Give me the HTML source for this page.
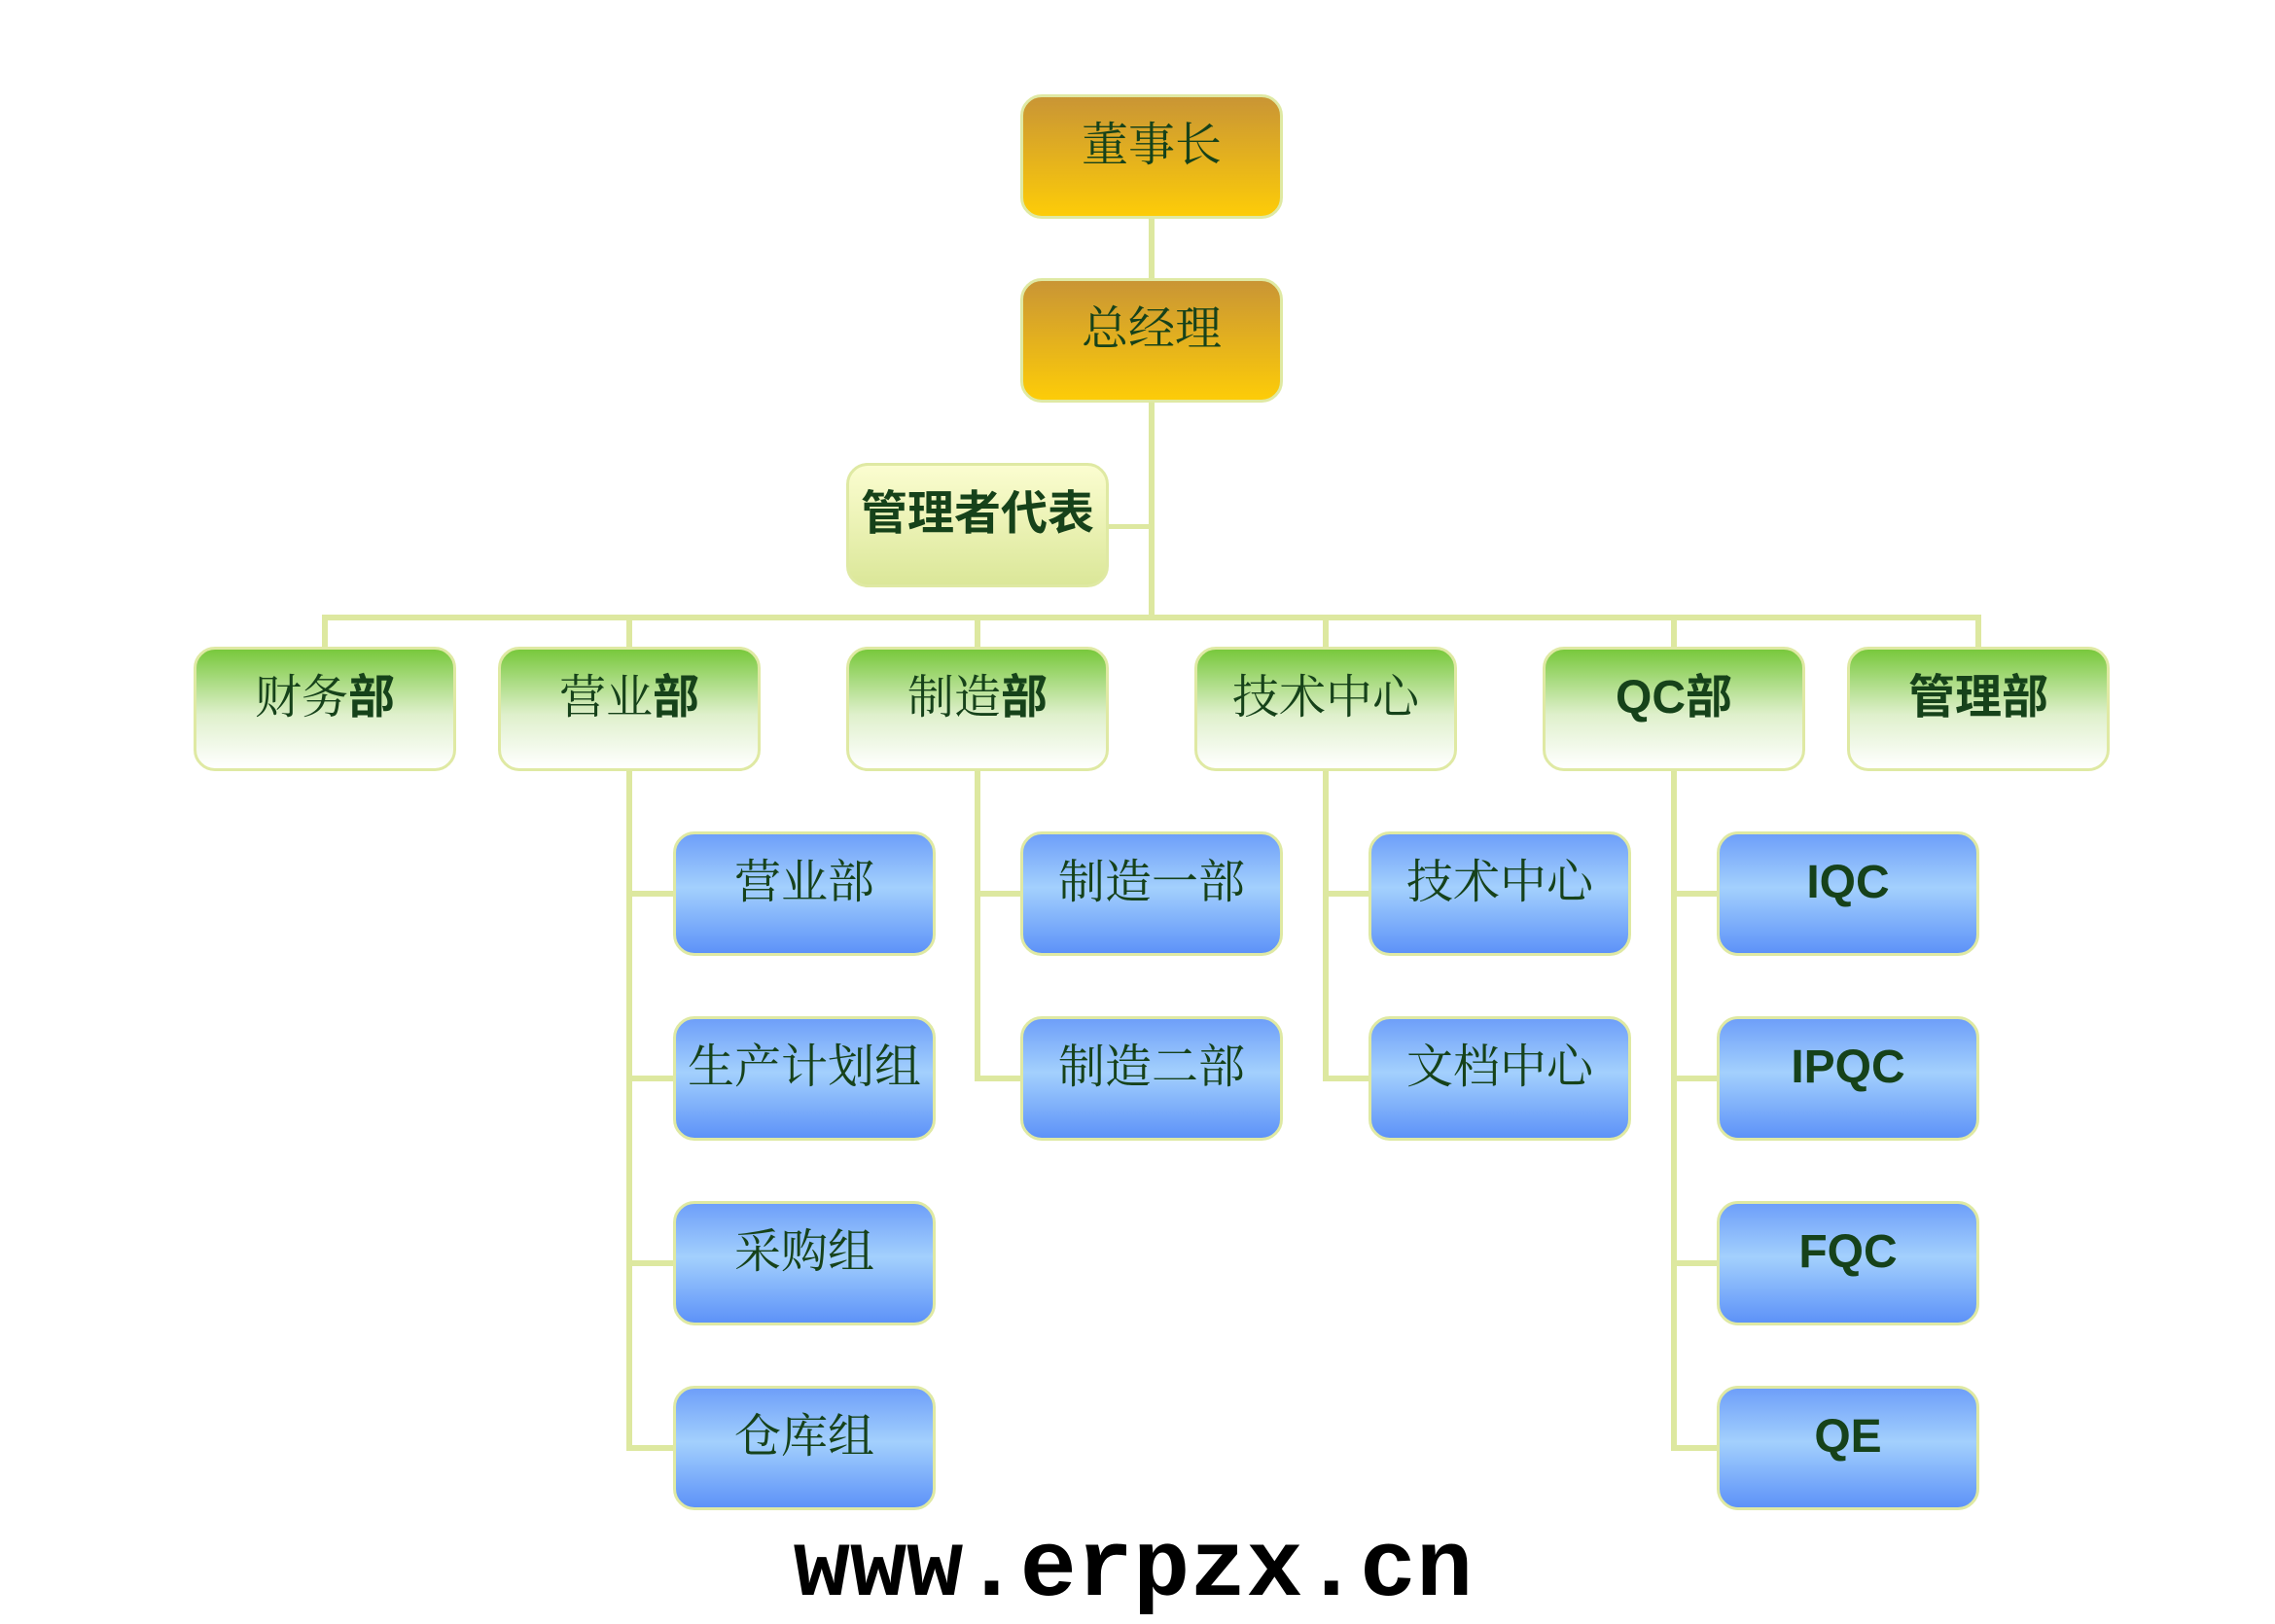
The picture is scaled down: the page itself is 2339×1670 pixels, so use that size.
<!DOCTYPE html>
<html><head><meta charset="utf-8"><style>
body{margin:0;width:2339px;height:1654px;background:#fff;position:relative;overflow:hidden;font-family:"Liberation Sans","Noto Sans CJK SC",sans-serif}
.b{position:absolute;width:270px;height:128px;border:3px solid #dfe9a3;border-radius:22px;box-sizing:border-box;color:#16421a;font-size:48px;text-align:center;line-height:100px;font-family:"Liberation Serif","Noto Serif CJK SC",serif}
.g{background:linear-gradient(#c99535,#fdcc08)}
.gr{background:linear-gradient(#78c83c,#dff0cc 55%,#fff)}
.bl{background:linear-gradient(#6e9ff9,#a3d0fd 45%,#5d92f8)}
.y{background:linear-gradient(#fbfdd0,#dbe799)}
.bold{font-weight:bold;font-family:"Liberation Sans","Noto Sans CJK SC",sans-serif}
.l{position:absolute;background:#dde8a0}
.w{position:absolute;left:800px;top:1560px;width:730px;text-align:center;font-family:"Liberation Mono",monospace;font-weight:bold;font-size:97px;line-height:110px;color:#000}
</style></head><body>
<div class="l" style="left:1181px;top:220px;width:6px;height:418px"></div>
<div class="l" style="left:1135px;top:539px;width:50px;height:5px"></div>
<div class="l" style="left:331px;top:632px;width:1706px;height:6px"></div>
<div class="l" style="left:331px;top:632px;width:6px;height:36px"></div>
<div class="l" style="left:644px;top:632px;width:6px;height:36px"></div>
<div class="l" style="left:1002px;top:632px;width:6px;height:36px"></div>
<div class="l" style="left:1360px;top:632px;width:6px;height:36px"></div>
<div class="l" style="left:1718px;top:632px;width:6px;height:36px"></div>
<div class="l" style="left:2031px;top:632px;width:6px;height:36px"></div>
<div class="l" style="left:644px;top:790px;width:6px;height:702px"></div>
<div class="l" style="left:1002px;top:790px;width:6px;height:322px"></div>
<div class="l" style="left:1360px;top:790px;width:6px;height:322px"></div>
<div class="l" style="left:1718px;top:790px;width:6px;height:702px"></div>
<div class="l" style="left:644px;top:916px;width:50px;height:6px"></div>
<div class="l" style="left:644px;top:1106px;width:50px;height:6px"></div>
<div class="l" style="left:644px;top:1296px;width:50px;height:6px"></div>
<div class="l" style="left:644px;top:1486px;width:50px;height:6px"></div>
<div class="l" style="left:1002px;top:916px;width:50px;height:6px"></div>
<div class="l" style="left:1002px;top:1106px;width:50px;height:6px"></div>
<div class="l" style="left:1360px;top:916px;width:50px;height:6px"></div>
<div class="l" style="left:1360px;top:1106px;width:50px;height:6px"></div>
<div class="l" style="left:1718px;top:916px;width:50px;height:6px"></div>
<div class="l" style="left:1718px;top:1106px;width:50px;height:6px"></div>
<div class="l" style="left:1718px;top:1296px;width:50px;height:6px"></div>
<div class="l" style="left:1718px;top:1486px;width:50px;height:6px"></div>
<div class="b g" style="left:1049px;top:97px">董事长</div>
<div class="b g" style="left:1049px;top:286px">总经理</div>
<div class="b y bold" style="left:870px;top:476px">管理者代表</div>
<div class="b gr" style="left:199px;top:665px">财务<span class="bold">部</span></div>
<div class="b gr" style="left:512px;top:665px">营业<span class="bold">部</span></div>
<div class="b gr" style="left:870px;top:665px">制造<span class="bold">部</span></div>
<div class="b gr" style="left:1228px;top:665px">技术中心</div>
<div class="b gr bold" style="left:1586px;top:665px">QC部</div>
<div class="b gr bold" style="left:1899px;top:665px">管理部</div>
<div class="b bl" style="left:692px;top:855px">营业部</div>
<div class="b bl" style="left:692px;top:1045px">生产计划组</div>
<div class="b bl" style="left:692px;top:1235px">采购组</div>
<div class="b bl" style="left:692px;top:1425px">仓库组</div>
<div class="b bl" style="left:1049px;top:855px">制造一部</div>
<div class="b bl" style="left:1049px;top:1045px">制造二部</div>
<div class="b bl" style="left:1407px;top:855px">技术中心</div>
<div class="b bl" style="left:1407px;top:1045px">文档中心</div>
<div class="b bl bold" style="left:1765px;top:855px">IQC</div>
<div class="b bl bold" style="left:1765px;top:1045px">IPQC</div>
<div class="b bl bold" style="left:1765px;top:1235px">FQC</div>
<div class="b bl bold" style="left:1765px;top:1425px">QE</div>
<div class="w">www.erpzx.cn</div>
</body></html>
